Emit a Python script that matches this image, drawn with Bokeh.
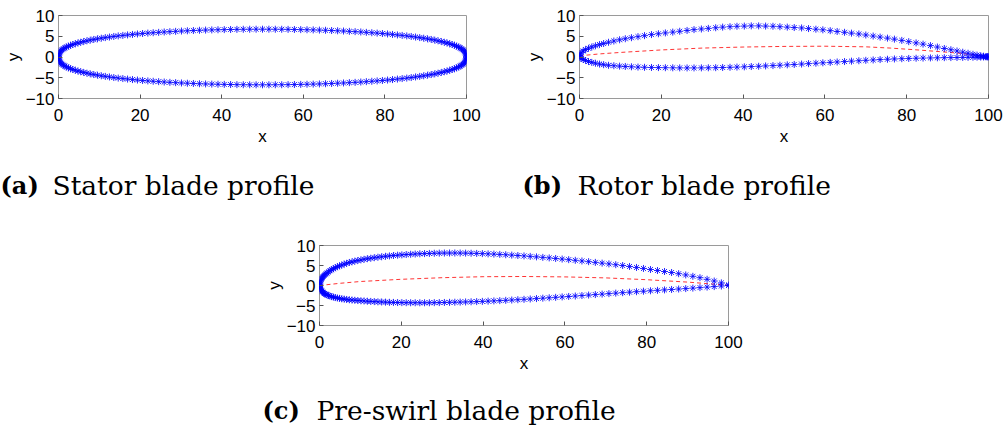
from bokeh.plotting import figure
from bokeh.models import Range1d, FixedTicker, Label, Spacer
from bokeh.layouts import column, row
from bokeh.embed import file_html
from bokeh.resources import INLINE

# ---------------- data ----------------
x_ticks = [0, 20, 40, 60, 80, 100]
y_ticks = [-10, -5, 0, 5, 10]

stator_x = [0, 0.025, 0.099, 0.222, 0.394, 0.616, 0.886, 1.204, 1.571, 1.986,
            2.447, 2.956, 3.511, 4.112, 4.759, 5.450, 6.185, 6.963, 7.784, 8.646,
            9.549, 10.49, 11.47, 12.49, 13.55, 14.64, 15.77, 16.93, 18.13, 19.35,
            20.61, 21.90, 23.21, 24.55, 25.91, 27.30, 28.71, 30.14, 31.59, 33.06,
            34.55, 36.05, 37.57, 39.09, 40.63, 42.18, 43.73, 45.29, 46.86, 48.43,
            50.00,
            51.57, 53.14, 54.71, 56.27, 57.82, 59.37, 60.91, 62.43, 63.95, 65.45,
            66.94, 68.41, 69.86, 71.29, 72.70, 74.09, 75.45, 76.79, 78.10, 79.39,
            80.65, 81.87, 83.07, 84.23, 85.36, 86.45, 87.51, 88.53, 89.51, 90.45,
            91.354, 92.216, 93.037, 93.815, 94.550, 95.241, 95.888, 96.489, 97.044, 97.553,
            98.014, 98.429, 98.796, 99.114, 99.384, 99.606, 99.778, 99.901, 99.975, 100.0]
stator_upper = [0, 0.42, 0.73, 1.01, 1.27, 1.52, 1.75, 1.98, 2.20, 2.41,
                2.62, 2.82, 3.01, 3.20, 3.38, 3.56, 3.74, 3.90, 4.07, 4.23,
                4.38, 4.53, 4.67, 4.81, 4.95, 5.08, 5.20, 5.32, 5.44, 5.55,
                5.66, 5.76, 5.85, 5.94, 6.03, 6.11, 6.18, 6.26, 6.32, 6.38,
                6.44, 6.49, 6.53, 6.57, 6.60, 6.63, 6.66, 6.68, 6.69, 6.70,
                6.70,
                6.70, 6.69, 6.68, 6.66, 6.63, 6.60, 6.57, 6.53, 6.49, 6.44,
                6.38, 6.32, 6.26, 6.18, 6.11, 6.03, 5.94, 5.85, 5.76, 5.66,
                5.55, 5.44, 5.32, 5.20, 5.08, 4.95, 4.81, 4.67, 4.53, 4.38,
                4.23, 4.07, 3.90, 3.74, 3.56, 3.38, 3.20, 3.01, 2.82, 2.62,
                2.41, 2.20, 1.98, 1.75, 1.52, 1.27, 1.01, 0.73, 0.42, 0]
stator_lower = [0, -0.42, -0.73, -1.01, -1.27, -1.52, -1.75, -1.98, -2.20, -2.41,
                -2.62, -2.82, -3.01, -3.20, -3.38, -3.56, -3.74, -3.90, -4.07, -4.23,
                -4.38, -4.53, -4.67, -4.81, -4.95, -5.08, -5.20, -5.32, -5.44, -5.55,
                -5.66, -5.76, -5.85, -5.94, -6.03, -6.11, -6.18, -6.26, -6.32, -6.38,
                -6.44, -6.49, -6.53, -6.57, -6.60, -6.63, -6.66, -6.68, -6.69, -6.70,
                -6.70,
                -6.70, -6.69, -6.68, -6.66, -6.63, -6.60, -6.57, -6.53, -6.49, -6.44,
                -6.38, -6.32, -6.26, -6.18, -6.11, -6.03, -5.94, -5.85, -5.76, -5.66,
                -5.55, -5.44, -5.32, -5.20, -5.08, -4.95, -4.81, -4.67, -4.53, -4.38,
                -4.23, -4.07, -3.90, -3.74, -3.56, -3.38, -3.20, -3.01, -2.82, -2.62,
                -2.41, -2.20, -1.98, -1.75, -1.52, -1.27, -1.01, -0.73, -0.42, 0]

rotor_x = [0, 0.1, 0.4, 0.9, 1.5, 2.2, 3.0, 3.9, 4.9, 5.9,
           7.1, 8.4, 9.8, 11.2, 12.7, 14.3, 15.9, 17.6, 19.3, 21.0,
           22.8, 24.5, 26.3, 28.0, 29.8, 31.5, 33.3, 35.0, 36.8, 38.5,
           40.3, 42.0, 43.8, 45.5, 47.3, 49.0, 50.8, 52.5, 54.3, 56.0,
           57.8, 59.5, 61.3, 63.0, 64.8, 66.5, 68.3, 70.0, 71.8, 73.5,
           75.3, 77.0, 78.8, 80.5, 82.3, 84.0, 85.8, 87.5, 89.2, 90.8,
           92.3, 93.7, 95.0, 96.2, 97.2, 98.1, 98.8, 99.4, 99.8, 100]
rotor_upper = [0.3, 0.7, 1.05, 1.45, 1.8, 2.1, 2.4, 2.7, 3.0, 3.25,
               3.55, 3.85, 4.15, 4.4, 4.65, 4.9, 5.15, 5.4, 5.6, 5.8,
               6.0, 6.2, 6.4, 6.6, 6.75, 6.9, 7.05, 7.2, 7.3, 7.4,
               7.45, 7.5, 7.5, 7.45, 7.4, 7.3, 7.2, 7.1, 7.0, 6.85,
               6.7, 6.55, 6.35, 6.15, 5.95, 5.75, 5.55, 5.3, 5.05, 4.8,
               4.55, 4.3, 4.0, 3.7, 3.4, 3.1, 2.75, 2.4, 2.05, 1.75,
               1.45, 1.15, 0.9, 0.65, 0.45, 0.3, 0.2, 0.12, 0.08, 0.05]
rotor_lower = [0.3, -0.1, -0.35, -0.6, -0.85, -1.1, -1.3, -1.5, -1.7, -1.85,
               -2.0, -2.1, -2.2, -2.28, -2.36, -2.43, -2.48, -2.52, -2.55, -2.58,
               -2.6, -2.62, -2.63, -2.63, -2.62, -2.6, -2.57, -2.53, -2.48, -2.43,
               -2.37, -2.3, -2.23, -2.15, -2.07, -1.98, -1.89, -1.8, -1.7, -1.6,
               -1.5, -1.4, -1.3, -1.2, -1.1, -1.0, -0.9, -0.8, -0.71, -0.62,
               -0.54, -0.47, -0.41, -0.35, -0.3, -0.26, -0.22, -0.19, -0.16, -0.14,
               -0.12, -0.1, -0.08, -0.06, -0.04, -0.02, 0.0, 0.02, 0.04, 0.05]
rotor_camber_x = [0, 5, 10, 20, 30, 40, 50, 60, 70, 76, 82, 88, 93, 96, 100]
rotor_camber_y = [0.3, 0.75, 1.1, 1.7, 2.15, 2.4, 2.55, 2.6, 2.45, 2.15, 1.75, 1.3, 0.9, 0.55, 0.05]

preswirl_x = [0, 0.015, 0.061, 0.137, 0.244, 0.381, 0.548, 0.745, 0.973, 1.231,
              1.519, 1.837, 2.185, 2.563, 2.970, 3.407, 3.874, 4.370, 4.894, 5.448,
              6.031, 6.642, 7.282, 7.950, 8.645, 9.369, 10.121, 10.899, 11.705, 12.538,
              13.397, 14.283, 15.195, 16.133, 17.096, 18.085, 19.098, 20.136, 21.199, 22.285,
              23.396, 24.529, 25.686, 26.865, 28.066, 29.289, 30.534, 31.800, 33.087, 34.394,
              35.721, 37.068, 38.434, 39.818, 41.221, 42.642, 44.081, 45.536, 47.008, 48.496,
              50.000, 51.519, 53.053, 54.601, 56.163, 57.738, 59.326, 60.927, 62.539, 64.163,
              65.798, 67.443, 69.098, 70.763, 72.436, 74.118, 75.808, 77.505, 79.209, 80.919,
              82.635, 84.357, 86.083, 87.813, 89.547, 91.284, 93.024, 94.766, 96.510, 98.255,
              100.0]
preswirl_upper = [0, 0.3, 0.6, 0.9, 1.2, 1.5, 1.8, 2.1, 2.35, 2.6,
                  2.85, 3.1, 3.4, 3.7, 3.95, 4.2, 4.45, 4.7, 4.9, 5.1,
                  5.35, 5.55, 5.75, 5.9, 6.1, 6.25, 6.4, 6.55, 6.7, 6.82,
                  6.95, 7.07, 7.18, 7.3, 7.4, 7.5, 7.58, 7.66, 7.74, 7.81,
                  7.87, 7.93, 7.98, 8.02, 8.06, 8.09, 8.11, 8.12, 8.12, 8.11,
                  8.09, 8.06, 8.02, 7.97, 7.91, 7.85, 7.77, 7.69, 7.6, 7.5,
                  7.4, 7.28, 7.16, 7.03, 6.9, 6.76, 6.61, 6.46, 6.3, 6.13,
                  5.96, 5.78, 5.59, 5.4, 5.2, 5.0, 4.76, 4.51, 4.26, 4.0,
                  3.75, 3.5, 3.25, 2.95, 2.64, 2.3, 1.95, 1.55, 1.12, 0.65,
                  0.15]
preswirl_lower = [0, -0.25, -0.5, -0.75, -0.98, -1.2, -1.42, -1.62, -1.85, -2.0,
                  -2.18, -2.35, -2.5, -2.65, -2.78, -2.9, -3.02, -3.12, -3.22, -3.32,
                  -3.41, -3.49, -3.57, -3.64, -3.7, -3.76, -3.82, -3.87, -3.93, -3.98,
                  -4.03, -4.08, -4.12, -4.16, -4.2, -4.23, -4.26, -4.28, -4.3, -4.31,
                  -4.32, -4.32, -4.32, -4.31, -4.29, -4.27, -4.24, -4.21, -4.18, -4.15,
                  -4.11, -4.07, -4.02, -3.97, -3.91, -3.85, -3.78, -3.71, -3.63, -3.55,
                  -3.46, -3.37, -3.27, -3.17, -3.07, -2.96, -2.85, -2.74, -2.63, -2.51,
                  -2.39, -2.27, -2.15, -2.03, -1.91, -1.79, -1.67, -1.55, -1.43, -1.32,
                  -1.21, -1.1, -0.99, -0.88, -0.77, -0.65, -0.53, -0.4, -0.27, -0.13,
                  0.0]
preswirl_camber_x = [0, 5, 10, 20, 30, 40, 50, 60, 70, 80, 90, 95, 100]
preswirl_camber_y = [0, 0.55, 1.0, 1.55, 1.95, 2.2, 2.25, 2.15, 1.9, 1.45, 0.85, 0.45, 0.05]

captions = [("(a)", "Stator blade profile"),
            ("(b)", "Rotor blade profile"),
            ("(c)", "Pre-swirl blade profile")]

# ---------------- styling ----------------
BLUE = "#0000ff"
FRAME = "#9a9a9a"
TICK_FONT = "Liberation Sans"
CAP_FONT = "DejaVu Serif"


def make_panel(width, height, bl, br, bt, bb):
    p = figure(width=width, height=height, x_range=Range1d(0, 100), y_range=Range1d(-10, 10),
               output_backend="svg", toolbar_location=None,
               min_border_left=bl, min_border_right=br, min_border_top=bt, min_border_bottom=bb,
               background_fill_color="white", border_fill_color="white")
    p.grid.visible = False
    p.outline_line_color = FRAME
    p.outline_line_width = 1
    p.xaxis.ticker = FixedTicker(ticks=x_ticks)
    p.yaxis.ticker = FixedTicker(ticks=y_ticks)
    p.xaxis.axis_label = "x"
    p.yaxis.axis_label = "y"
    for ax in (p.xaxis[0], p.yaxis[0]):
        ax.axis_line_color = None
        ax.major_tick_in = 4
        ax.major_tick_out = 0
        ax.minor_tick_line_color = None
        ax.major_tick_line_color = "#555555"
        ax.major_label_text_font = TICK_FONT
        ax.major_label_text_font_size = "17px"
        ax.major_label_text_color = "black"
        ax.axis_label_text_font = TICK_FONT
        ax.axis_label_text_font_size = "17px"
        ax.axis_label_text_font_style = "normal"
        ax.axis_label_text_color = "black"
        ax.axis_label_standoff = 0
    p.xaxis.major_label_standoff = 10
    p.xaxis.axis_label_standoff = 3
    p.yaxis.major_label_standoff = 4
    return p


def make_caption(width, height, tag, text, x_tag, x_text, y_mid):
    c = figure(width=width, height=height, x_range=Range1d(0, 1), y_range=Range1d(0, 1),
               x_axis_type=None, y_axis_type=None, output_backend="svg", toolbar_location=None,
               min_border=0, outline_line_color=None)
    c.grid.visible = False
    c.add_layout(Label(x=x_tag, y=y_mid, x_units="screen", y_units="screen", text=tag,
                       text_font=CAP_FONT, text_font_style="bold", text_font_size="24px",
                       text_baseline="middle", text_align="left", text_color="black"))
    c.add_layout(Label(x=x_text, y=y_mid, x_units="screen", y_units="screen", text=text,
                       text_font=CAP_FONT, text_font_size="26.5px",
                       text_baseline="middle", text_align="left", text_color="black"))
    return c


def add_profile(p, xs, up, lo, cx=None, cy=None):
    if cx is not None:
        p.line(cx, cy, line_color="red", line_dash="4 3", line_width=1, line_alpha=0.8)
    p.scatter(xs, up, marker="asterisk", size=7, line_color=BLUE, line_width=1, line_alpha=0.85)
    p.scatter(xs, lo, marker="asterisk", size=7, line_color=BLUE, line_width=1, line_alpha=0.85)


pa = make_panel(500, 150, 58, 34, 15, 52)
add_profile(pa, stator_x, stator_upper, stator_lower)
ca = make_caption(500, 65, captions[0][0], captions[0][1], 0, 52, 30)

pb = make_panel(505, 150, 79, 17, 15, 52)
add_profile(pb, rotor_x, rotor_upper, rotor_lower, rotor_camber_x, rotor_camber_y)
cb = make_caption(505, 65, captions[1][0], captions[1][1], 22, 77, 30)

pc = make_panel(500, 160, 59, 32, 30, 48)
add_profile(pc, preswirl_x, preswirl_upper, preswirl_lower, preswirl_camber_x, preswirl_camber_y)
cc = make_caption(500, 55, captions[2][0], captions[2][1], 2, 56, 20)

layout = column(row(pa, pb), row(ca, cb),
                row(Spacer(width=260, height=160), pc),
                row(Spacer(width=260, height=55), cc))

open("out.html", "w").write(file_html(layout, INLINE))
